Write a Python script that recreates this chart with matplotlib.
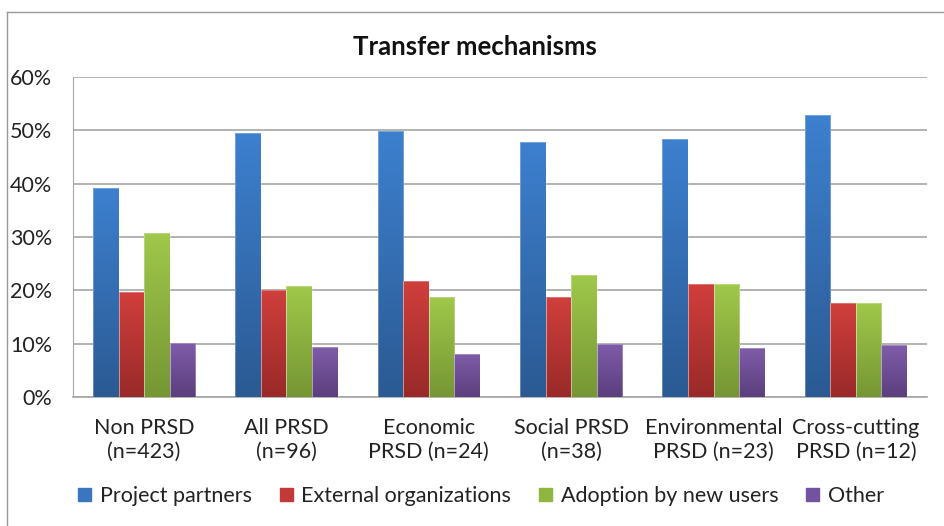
import numpy as np
import matplotlib
matplotlib.use('Agg')
import matplotlib.pyplot as plt
from matplotlib.colors import LinearSegmentedColormap
from matplotlib.patches import Rectangle
from matplotlib.ticker import FuncFormatter

plt.rcParams['font.family'] = ['Lato', 'DejaVu Sans']

categories = ['Non PRSD\n(n=423)', 'All PRSD\n(n=96)', 'Economic\nPRSD (n=24)',
              'Social PRSD\n(n=38)', 'Environmental\nPRSD (n=23)', 'Cross-cutting\nPRSD (n=12)']
series = ['Project partners', 'External organizations', 'Adoption by new users', 'Other']
project_partners = [39.2, 49.5, 49.8, 47.8, 48.3, 52.8]
external_orgs = [19.6, 20.1, 21.8, 18.7, 21.1, 17.6]
adoption_new_users = [30.8, 20.9, 18.7, 22.8, 21.1, 17.6]
other = [10.1, 9.3, 8.1, 10.0, 9.2, 9.7]

values = [project_partners, external_orgs, adoption_new_users, other]
# (top colour, bottom colour) for the Excel-style gradient
grads = [('#3d80cf', '#2b5a93'), ('#d03f3c', '#992a29'),
         ('#a0c84a', '#769634'), ('#7f5ca9', '#5c3f7d')]
legend_cols = ['#3a76c0', '#c13a37', '#8fb640', '#7352a0']

fig = plt.figure(figsize=(9.45, 5.26), dpi=100)
ax = fig.add_axes([0.0772, 0.2452, 0.9038, 0.6084])

# outer chart frame (top and left edges visible)
fig.add_artist(plt.Line2D([7/945, 1], [1-12/526, 1-12/526], color='#9a9a9a', lw=1.0))
fig.add_artist(plt.Line2D([7/945, 7/945], [0, 1-12/526], color='#9a9a9a', lw=1.0))

x = np.arange(len(categories))
w = 0.18
offsets = (np.arange(4) - 1.5) * w

for i, (vals, (c_top, c_bot)) in enumerate(zip(values, grads)):
    bars = ax.bar(x + offsets[i], vals, width=w, color=c_top, edgecolor='none',
                  label=series[i], zorder=2)
    cmap = LinearSegmentedColormap.from_list('g%d' % i, [c_bot, c_top])
    for b in bars:
        x0, y0 = b.get_x(), b.get_y()
        bw, bh = b.get_width(), b.get_height()
        grad = np.linspace(0, 1, 100).reshape(-1, 1)
        im = ax.imshow(grad, extent=[x0, x0 + bw, y0, y0 + bh], origin='lower',
                       aspect='auto', cmap=cmap, zorder=3)
        im.set_clip_path(b)
        # faint outline like Excel's soft edge
        ax.add_patch(Rectangle((x0, y0), bw, bh, fill=False, edgecolor='#ffffff',
                               lw=0.4, alpha=0.5, zorder=4))

ax.set_xlim(-0.5, len(categories) - 0.5)
ax.set_ylim(0, 60)
ax.set_yticks(np.arange(0, 61, 10))
ax.yaxis.set_major_formatter(FuncFormatter(lambda v, p: '%d%%' % v))
ax.yaxis.grid(True, color='#a6a6a6', lw=1.2, zorder=1)
ax.set_axisbelow(True)
ax.set_xticks(x)
ax.set_xticklabels(categories, fontsize=15.5, color='#222222', linespacing=1.22)
ax.tick_params(axis='x', length=0, pad=15)
ax.tick_params(axis='y', length=0, pad=15, labelsize=15.5, labelcolor='#222222')
for s in ['top', 'right']:
    ax.spines[s].set_visible(False)
ax.spines['left'].set_color('#a6a6a6')
ax.spines['bottom'].set_color('#a6a6a6')
ax.spines['bottom'].set_linewidth(1.2)

fig.text(0.503, 1 - 47/526, 'Transfer mechanisms', ha='center', va='center',
         fontsize=18.5, fontweight='bold', color='#111111')

handles = [Rectangle((0, 0), 1, 1, color=c) for c in legend_cols]
fig.legend(handles, series, loc='center', bbox_to_anchor=(0.509, 1 - 496/526), ncol=4,
           frameon=False, fontsize=15.5, handlelength=0.6, handleheight=0.6,
           handletextpad=0.4, columnspacing=1.3, labelcolor='#222222')

fig.savefig('out.png', dpi=100)
